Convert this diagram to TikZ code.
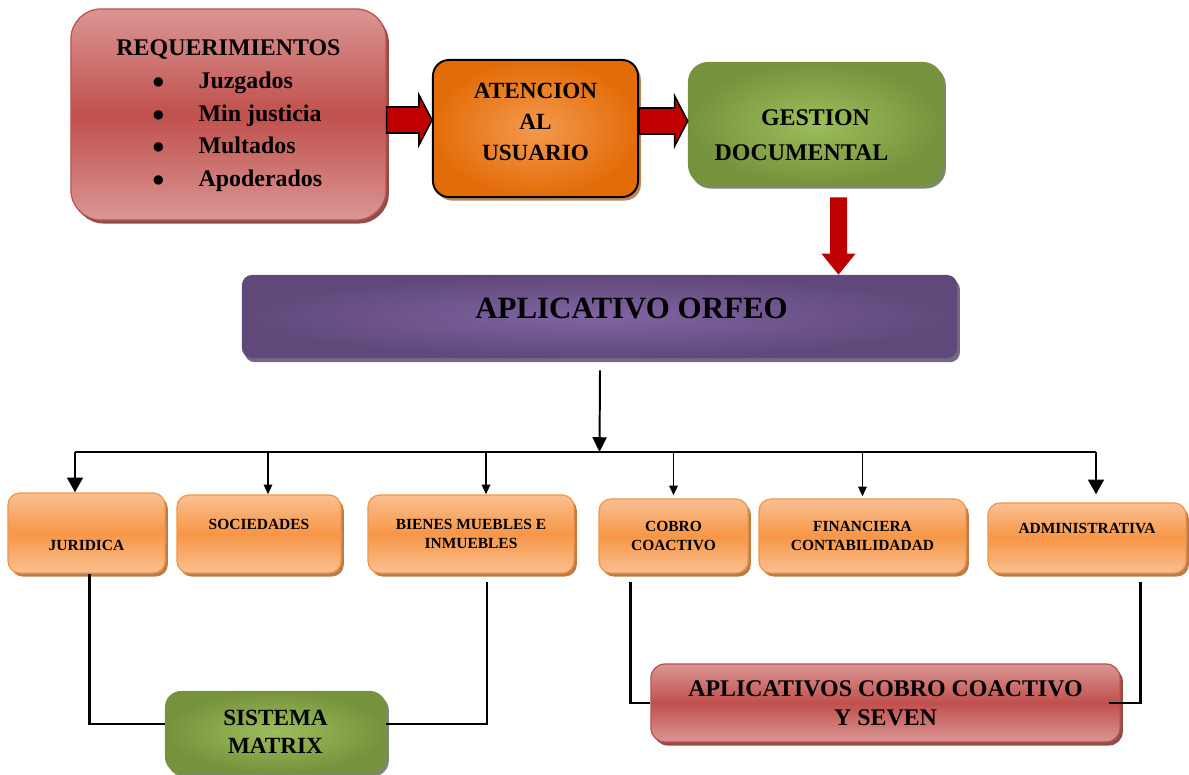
\documentclass[tikz,border=0pt]{standalone}
\usepackage{fontspec}
\setmainfont{Liberation Serif}
\usetikzlibrary{arrows.meta,calc,shadows}
\definecolor{reqlight}{HTML}{DA9694}
\definecolor{reqdark}{HTML}{C0504D}
\definecolor{reqshade}{HTML}{8F4D4B}
\definecolor{atenout}{HTML}{E36C09}
\definecolor{atenin}{HTML}{F49A4E}
\definecolor{atenshade}{HTML}{B98758}
\definecolor{gestout}{HTML}{76923C}
\definecolor{gestin}{HTML}{9EBE5C}
\definecolor{gestshade}{HTML}{7B8B6A}
\definecolor{orfout}{HTML}{5F497A}
\definecolor{orfin}{HTML}{8064A2}
\definecolor{orfshade}{HTML}{736A7E}
\definecolor{arealight}{HTML}{F9C093}
\definecolor{areamid}{HTML}{F79646}
\definecolor{areashade}{HTML}{B97C4B}
\definecolor{arrred}{HTML}{C00000}
\tikzset{
  basebox/.style={rounded corners=0.3cm, align=center, inner sep=2pt},
  redbox/.style={basebox, draw=reqdark, line width=0.9pt,
    top color=reqlight, bottom color=reqlight, middle color=reqdark,
    drop shadow={shadow xshift=2pt, shadow yshift=-2.5pt, opacity=1, fill=reqshade}},
  atenbox/.style={basebox, draw=black, line width=1.4pt, inner color=atenin, outer color=atenout,
    drop shadow={shadow xshift=2pt, shadow yshift=-2.5pt, opacity=1, fill=atenshade}},
  greenbox/.style={basebox, inner color=gestin, outer color=gestout,
    drop shadow={shadow xshift=2pt, shadow yshift=-2.5pt, opacity=1, fill=gestshade}},
  purplebox/.style={basebox, inner color=orfin, outer color=orfout,
    drop shadow={shadow xshift=2pt, shadow yshift=-3pt, opacity=1, fill=orfshade}},
  areabox/.style={basebox, draw=areamid, line width=0.9pt,
    top color=arealight, bottom color=arealight, middle color=areamid,
    drop shadow={shadow xshift=2pt, shadow yshift=-2.5pt, opacity=1, fill=areashade},
    font=\bfseries\fontsize{11}{14}\selectfont},
  blockarr/.style={fill=arrred, draw=black, line width=1.1pt, line join=miter},
  conn/.style={line width=2.1pt},
  tarr/.style={line width=1.4pt, -{Triangle[length=7pt, width=6pt]}},
  tbig/.style={line width=2.1pt, -{Triangle[length=10.5pt, width=11pt]}},
}
\begin{document}
\begin{tikzpicture}[x=0.025cm, y=-0.025cm]
\useasboundingbox (0,0) rectangle (1189,775);

% top row
\node[redbox, rounded corners=0.75cm, minimum width=7.875cm, minimum height=5.275cm,
      font=\bfseries\fontsize{17}{23.4}\selectfont] (req) at (228.5,114.5)
  {\begin{tabular}{@{\hspace{0.9cm}}c@{\hspace{0.85cm}}l@{}}
   \multicolumn{2}{@{}c@{}}{REQUERIMIENTOS}\\
   $\bullet$ & Juzgados\\
   $\bullet$ & Min justicia\\
   $\bullet$ & Multados\\
   $\bullet$ & Apoderados
   \end{tabular}};
\node[atenbox, rounded corners=0.4cm, minimum width=5.125cm, minimum height=3.425cm,
      font=\bfseries\fontsize{16.5}{22}\selectfont] (aten) at (535.5,128.5)
  {ATENCION\\AL\\USUARIO\\[-13pt]\mbox{}};
\node[greenbox, rounded corners=0.5cm, minimum width=6.375cm, minimum height=3.075cm,
      font=\bfseries\fontsize{17}{24.8}\selectfont] (gest) at (815.5,123.5)
  {\mbox{}\\[3pt]GESTION\\DOCUMENTAL\hspace*{0.7cm}};

% fat red arrows
\coordinate (h1a) at ($(req.east)+(0,5.5)$);
\coordinate (h1b) at ($(aten.west)+(0,-8.5)$);
\filldraw[blockarr] ($(h1a)+(0,-13)$) -- ($(h1b)+(-13,-13)$) -- ($(h1b)+(-13,-25)$) -- (h1b)
  -- ($(h1b)+(-13,25)$) -- ($(h1b)+(-13,13)$) -- ($(h1a)+(0,13)$) -- cycle;
\coordinate (h2a) at ($(aten.east)+(0,-7.5)$);
\coordinate (h2b) at ($(gest.west)+(0,-2.5)$);
\filldraw[blockarr] ($(h2a)+(0,-13)$) -- ($(h2b)+(-13,-13)$) -- ($(h2b)+(-13,-25)$) -- (h2b)
  -- ($(h2b)+(-13,25)$) -- ($(h2b)+(-13,13)$) -- ($(h2a)+(0,13)$) -- cycle;

\node[purplebox, rounded corners=0.25cm, minimum width=17.875cm, minimum height=2.075cm,
      font=\bfseries\fontsize{22}{26}\selectfont] (orfeo) at (599.5,316.5)
  {\hspace*{1.6cm}APLICATIVO ORFEO\\[-14pt]\mbox{}};

\coordinate (dA) at ($(gest.south)+(23,12)$);
\coordinate (dB) at (orfeo.north -| dA);
\fill[arrred] ($(dA)+(-8.5,0)$) -- ($(dB)+(-8.5,-21)$) -- ($(dB)+(-17,-21)$) -- (dB)
  -- ($(dB)+(17,-21)$) -- ($(dB)+(8.5,-21)$) -- ($(dA)+(8.5,0)$) -- cycle;

% areas
\node[areabox, minimum width=3.925cm, minimum height=2cm] (jur) at (86.5,533) {\mbox{}\\[11pt]JURIDICA};
\node[areabox, minimum width=4.1cm, minimum height=1.95cm] (soc) at (259,534) {SOCIEDADES\\\mbox{}};
\node[areabox, minimum width=5.15cm, minimum height=1.95cm] (bien) at (471,534) {BIENES MUEBLES E\\INMUEBLES};
\node[areabox, minimum width=3.725cm, minimum height=1.85cm] (cobro) at (673.5,536) {COBRO\\COACTIVO};
\node[areabox, minimum width=5.175cm, minimum height=1.85cm] (fin) at (862.5,536) {FINANCIERA\\CONTABILIDADAD};
\node[areabox, minimum width=4.95cm, minimum height=1.75cm] (adm) at (1087,538) {ADMINISTRATIVA\\\mbox{}};

% systems
\node[greenbox, rounded corners=0.4cm, minimum width=5.525cm, minimum height=2.05cm,
      font=\bfseries\fontsize{16.5}{20}\selectfont] (sis) at (275.5,732) {SISTEMA\\MATRIX};
\node[redbox, rounded corners=0.35cm, minimum width=11.725cm, minimum height=1.95cm,
      font=\bfseries\fontsize{17}{20.5}\selectfont] (apl) at (885.5,703)
  {APLICATIVOS COBRO COACTIVO\\Y SEVEN};

% tree
\coordinate (busL) at (75,452);
\coordinate (busR) at (1096,452);
\draw[line width=1.4pt, -{Triangle[length=10.5pt, width=10pt]}] ($(orfeo.south)+(0.5,12)$) -- (orfeo.south |- busL);
\draw[conn] (busL) -- (busR);
\draw[tbig] (busL) -- (busL |- jur.north);
\coordinate (t2) at ($(soc.north)+(9,0)$);
\draw[tarr] (t2 |- busL) -- (t2);
\coordinate (t3) at ($(bien.north)+(15,0)$);
\draw[tarr] (t3 |- busL) -- (t3);
\draw[tarr] (cobro.north |- busL) -- ($(cobro.north)+(0,-3)$);
\draw[tarr] (fin.north |- busL) -- ($(fin.north)+(0,-2)$);
\draw[tbig] (busR) -- ($(busR |- adm.north)+(0,-8)$);

% links to systems
\draw[conn] ($(jur.south)+(3,0)$) |- ($(sis.west)+(0,-8)$);
\draw[conn] ($(bien.south)+(16,8)$) |- ($(sis.east)+(0,-8)$);
\draw[conn] ($(cobro.south west)+(32,8)$) |- (apl.west);
\draw[conn] ($(apl.east)+(-12,0)$) -| ($(adm.south east)+(-46,8)$);
\end{tikzpicture}
\end{document}
